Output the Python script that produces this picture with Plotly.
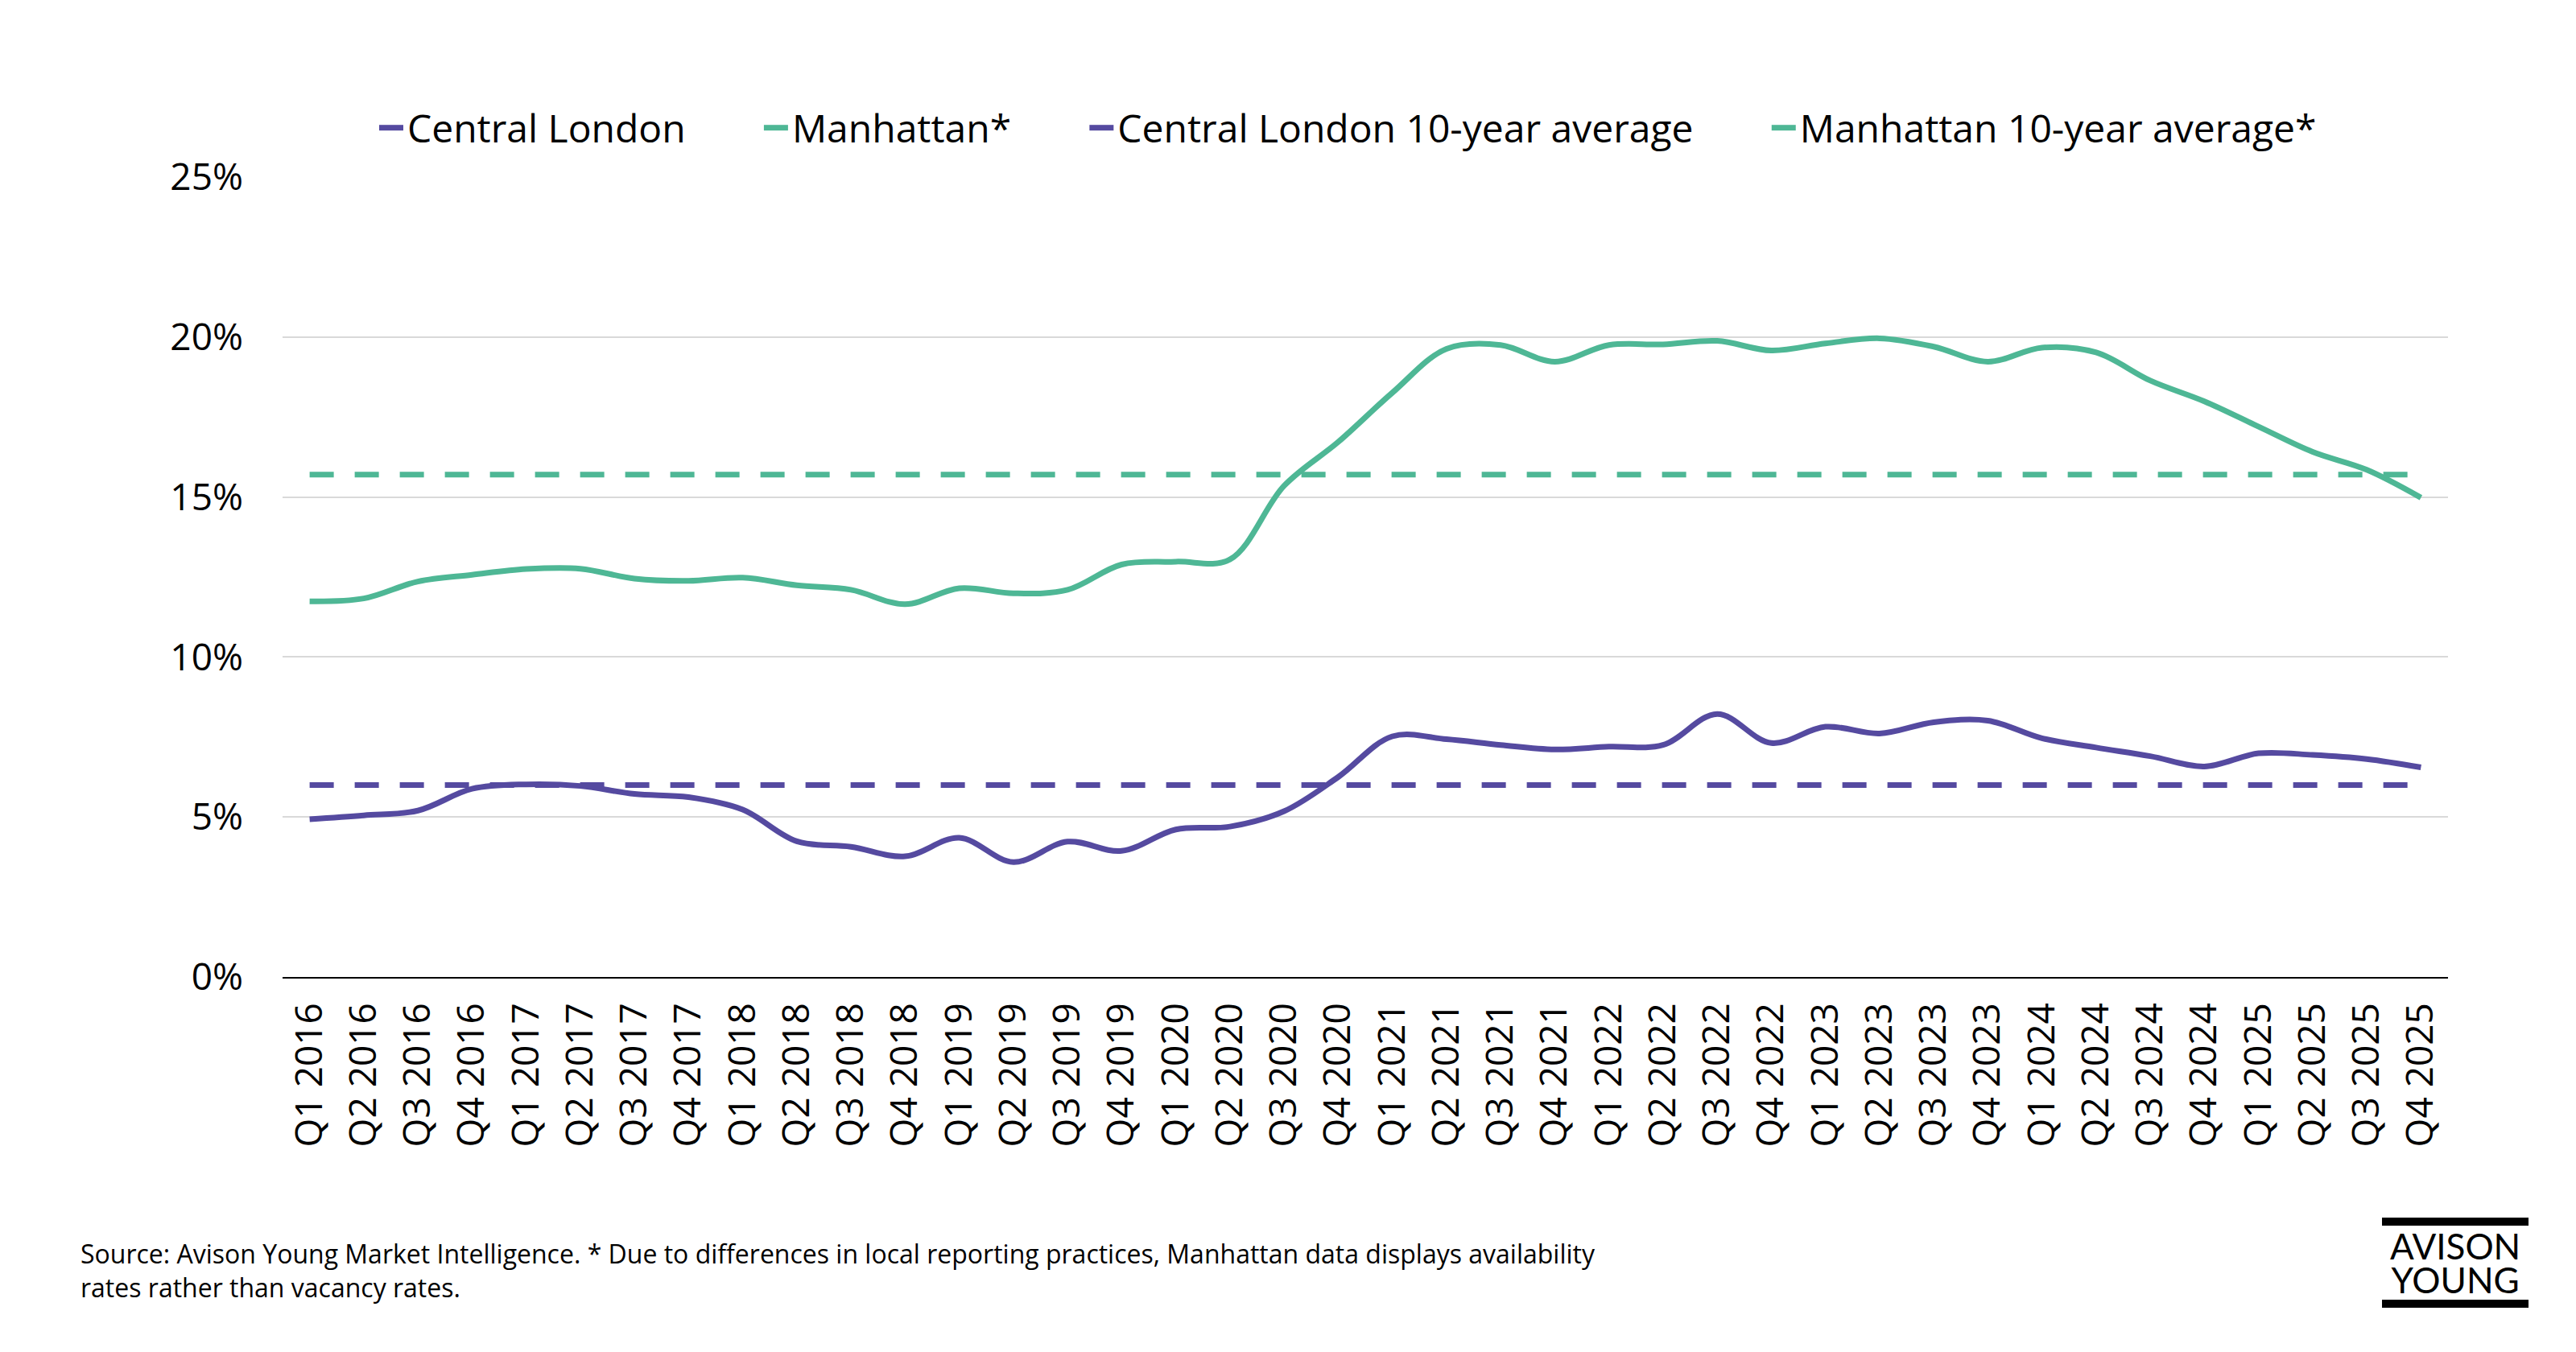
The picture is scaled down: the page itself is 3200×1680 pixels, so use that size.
import plotly.graph_objects as go

quarters = [f"Q{q} {y}" for y in range(2016, 2026) for q in range(1, 5)]

central_london = [4.93, 5.05, 5.2, 5.88, 6.02, 5.97, 5.72, 5.62, 5.23, 4.24, 4.07, 3.77,
                  4.35, 3.59, 4.23, 3.94, 4.61, 4.7, 5.18, 6.25, 7.52, 7.43, 7.25, 7.11,
                  7.2, 7.25, 8.22, 7.31, 7.82, 7.61, 7.96, 8.01, 7.46, 7.17, 6.9, 6.58,
                  6.99, 6.94, 6.81, 6.55]
manhattan = [11.74, 11.83, 12.36, 12.57, 12.75, 12.76, 12.45, 12.38, 12.48, 12.24, 12.1, 11.65,
             12.15, 11.99, 12.1, 12.89, 12.98, 13.05, 15.35, 16.72, 18.26, 19.63, 19.75, 19.23,
             19.75, 19.77, 19.88, 19.58, 19.8, 19.96, 19.7, 19.23, 19.67, 19.52, 18.64, 17.99,
             17.2, 16.41, 15.85, 14.98]
central_london_avg = 6.0
manhattan_avg = 15.7

y_ticks = [0, 5, 10, 15, 20, 25]
y_tick_labels = ["0%", "5%", "10%", "15%", "20%", "25%"]

series_names = ["Central London", "Manhattan*", "Central London 10-year average",
                "Manhattan 10-year average*"]

PURPLE = "#554AA0"
GREEN = "#4EB795"
FONT = "Open Sans"

W, H = 3200, 1680
L, R, T, B = 351, 159, 220, 466
PW, PH = W - L - R, H - T - B

PAD = "\u00a0" * 7


def px_x(px):
    return (px - L) / PW


def px_y(py):
    return (H - B - py) / PH


fig = go.Figure()
fig.add_trace(go.Scatter(x=quarters, y=central_london, name=series_names[0] + PAD, mode="lines",
                         line=dict(color=PURPLE, width=7, shape="spline", smoothing=1)))
fig.add_trace(go.Scatter(x=quarters, y=manhattan, name=series_names[1] + PAD, mode="lines",
                         line=dict(color=GREEN, width=7, shape="spline", smoothing=1)))
fig.add_trace(go.Scatter(x=quarters, y=[central_london_avg] * len(quarters),
                         name=series_names[2] + PAD, mode="lines",
                         line=dict(color=PURPLE, width=7, dash="30px,26px")))
fig.add_trace(go.Scatter(x=quarters, y=[manhattan_avg] * len(quarters),
                         name=series_names[3], mode="lines",
                         line=dict(color=GREEN, width=7, dash="30px,26px")))

fig.update_layout(
    width=W, height=H,
    margin=dict(l=L, r=R, t=T, b=B, autoexpand=False),
    paper_bgcolor="white", plot_bgcolor="white",
    font=dict(family=FONT, size=46, color="#000000"),
    showlegend=True,
    legend=dict(orientation="h", x=0.492, xanchor="center", y=px_y(159), yanchor="middle",
                font=dict(size=48, color="#000000"), itemwidth=30, traceorder="normal"),
    xaxis=dict(type="category", tickangle=-90, showgrid=False, showline=True,
               linecolor="#000000", linewidth=1.5, ticks="", ticklabelstandoff=12,
               tickfont=dict(size=46, color="#000000"), range=[-0.5, len(quarters) - 0.5]),
    yaxis=dict(range=[0, 25], tickvals=y_ticks, ticktext=y_tick_labels, showgrid=True,
               gridcolor="#D9D9D9", gridwidth=1.5, zeroline=False, showline=False,
               ticks="", ticklabelstandoff=48, tickfont=dict(size=46, color="#000000")),
)

fig.add_annotation(
    xref="paper", yref="paper", x=px_x(98), y=px_y(1534), xanchor="left", yanchor="top",
    align="left", showarrow=False,
    text="Source: Avison Young Market Intelligence. * Due to differences in local reporting practices, Manhattan data displays availability<br>rates rather than vacancy rates.",
    font=dict(size=32, color="#000000", family=FONT),
)

# Logo
for y0, y1 in [(1513, 1523), (1615, 1625)]:
    fig.add_shape(type="rect", xref="paper", yref="paper",
                  x0=px_x(2959), x1=px_x(3141), y0=px_y(y1), y1=px_y(y0),
                  fillcolor="#000000", line=dict(width=0))
fig.add_annotation(
    xref="paper", yref="paper", x=px_x(3050), y=px_y(1569),
    xanchor="center", yanchor="middle", showarrow=False, align="center",
    text="<span style='font-size:44px'>AVISON</span><br><span style='font-size:44px'>YOUNG</span>",
    font=dict(size=32, color="#000000", family="Lato"),
)

fig.write_html("out.html")
